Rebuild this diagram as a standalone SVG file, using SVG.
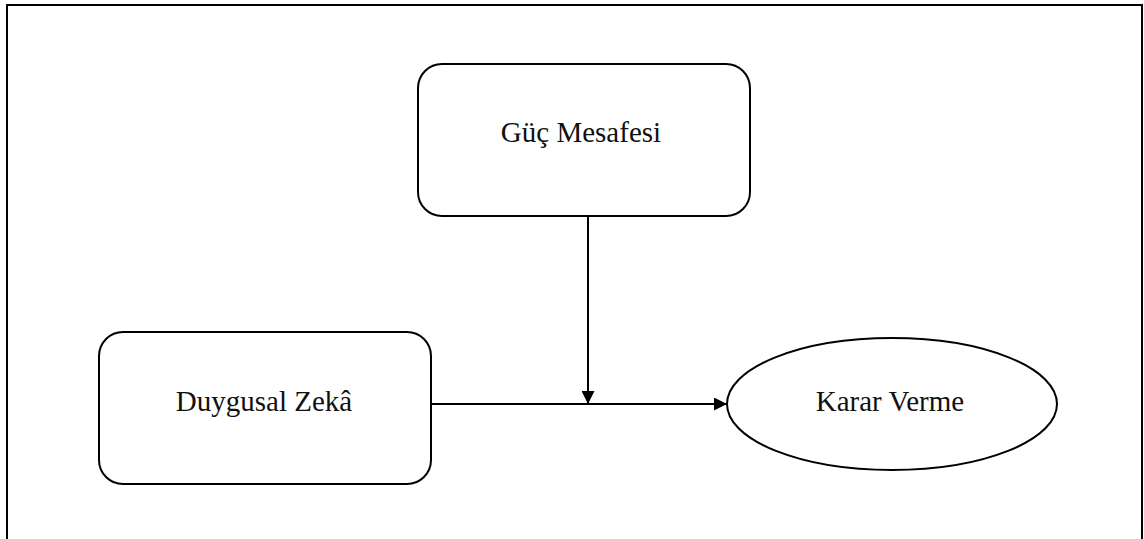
<svg xmlns="http://www.w3.org/2000/svg" width="1144" height="539" viewBox="0 0 1144 539">
  <style>
    .box { fill: #ffffff; stroke: #000000; stroke-width: 2; }
    .lbl { font-family: "Liberation Serif", "Times New Roman", serif; font-size: 29px; fill: #111111; text-anchor: middle; }
    .wire { stroke: #000000; stroke-width: 2; fill: none; }
  </style>
  <defs>
    <marker id="arrow" viewBox="0 0 10 10" refX="10" refY="5" markerWidth="6.5" markerHeight="6.5" markerUnits="strokeWidth" orient="auto">
      <path d="M0,0 L10,5 L0,10 Z" fill="#000000"/>
    </marker>
  </defs>
  <rect width="1144" height="539" fill="#ffffff"/>
  <!-- outer frame -->
  <path d="M7,545 L7,5 L1142,5 L1142,545" fill="none" stroke="#000000" stroke-width="2"/>

  <g id="connectors">
    <line class="wire" x1="431" y1="404" x2="727" y2="404" marker-end="url(#arrow)"/>
    <line class="wire" x1="588" y1="217" x2="588" y2="404" marker-end="url(#arrow)"/>
  </g>

  <g id="guc-mesafesi">
    <rect class="box" x="418" y="64" width="332" height="152" rx="24" ry="24"/>
    <text class="lbl" x="581" y="142">Güç Mesafesi</text>
  </g>

  <g id="duygusal-zeka">
    <rect class="box" x="99" y="332" width="332" height="152" rx="24" ry="24"/>
    <text class="lbl" x="264" y="411">Duygusal Zekâ</text>
  </g>

  <g id="karar-verme">
    <ellipse class="box" cx="892" cy="404" rx="165" ry="66"/>
    <text class="lbl" x="890" y="411">Karar Verme</text>
  </g>
</svg>
